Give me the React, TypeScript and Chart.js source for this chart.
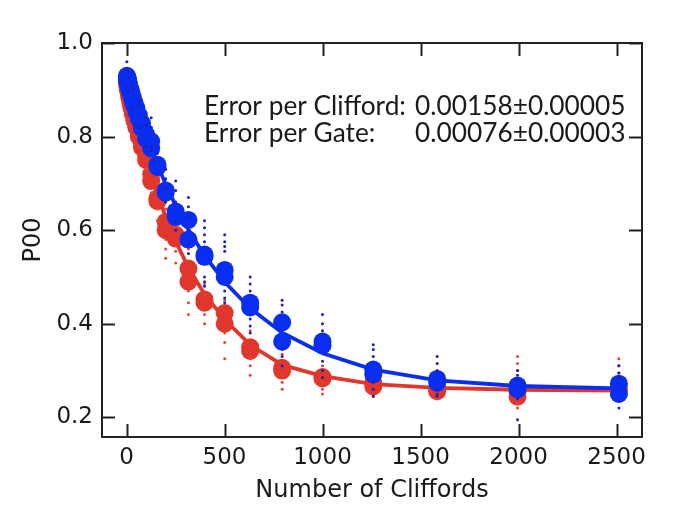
import React, { useEffect, useRef } from "react";
import { Chart, registerables } from "chart.js";

Chart.register(...registerables);

// Sequence lengths (number of Cliffords)
const lengths = [2, 4, 6, 8, 10, 13, 16, 20, 25, 32, 40, 50, 63, 79, 100, 126, 158, 200, 251, 316, 398, 501, 631, 794, 1000, 1259, 1585, 1995, 2512];

// Averaged P00 for two runs, blue series
const blueRunA = [0.930, 0.927, 0.923, 0.920, 0.916, 0.911, 0.906, 0.901, 0.894, 0.884, 0.873, 0.862, 0.846, 0.828, 0.805, 0.790, 0.740, 0.685, 0.640, 0.622, 0.548, 0.515, 0.445, 0.403, 0.362, 0.302, 0.282, 0.268, 0.272];
const blueRunB = [0.924, 0.920, 0.916, 0.912, 0.909, 0.904, 0.899, 0.893, 0.887, 0.877, 0.866, 0.853, 0.838, 0.818, 0.795, 0.775, 0.735, 0.680, 0.628, 0.580, 0.543, 0.500, 0.435, 0.362, 0.354, 0.292, 0.274, 0.260, 0.250];

// Averaged P00 for two runs, red series
const redRunA = [0.922, 0.917, 0.912, 0.907, 0.902, 0.896, 0.889, 0.880, 0.870, 0.857, 0.843, 0.828, 0.808, 0.787, 0.760, 0.720, 0.668, 0.618, 0.590, 0.518, 0.452, 0.423, 0.350, 0.306, 0.286, 0.273, 0.263, 0.256, 0.262];
const redRunB = [0.915, 0.910, 0.905, 0.900, 0.895, 0.888, 0.881, 0.872, 0.862, 0.849, 0.835, 0.820, 0.800, 0.777, 0.750, 0.705, 0.662, 0.600, 0.582, 0.490, 0.445, 0.400, 0.342, 0.300, 0.283, 0.266, 0.256, 0.244, 0.255];

// Individual random-sequence results (small dots)
const spreadLengths = [2, 10, 32, 63, 100, 126, 158, 200, 251, 316, 398, 501, 631, 794, 1000, 1259, 1585, 1995, 2512];
const blueSpread = [
  [0.96, 0.945, 0.905],
  [0.94, 0.925, 0.895],
  [0.91, 0.90, 0.86],
  [0.875, 0.865, 0.82],
  [0.84, 0.825, 0.78],
  [0.84, 0.82, 0.78, 0.77],
  [0.78, 0.765, 0.745, 0.72],
  [0.73, 0.71, 0.69, 0.66],
  [0.705, 0.685, 0.66, 0.62, 0.60],
  [0.67, 0.65, 0.63, 0.60, 0.57, 0.55],
  [0.62, 0.605, 0.59, 0.575, 0.50, 0.49, 0.48],
  [0.59, 0.575, 0.565, 0.555, 0.47, 0.455, 0.445],
  [0.50, 0.485, 0.47, 0.41, 0.395, 0.38],
  [0.45, 0.44, 0.425, 0.345, 0.33, 0.31],
  [0.42, 0.40, 0.385, 0.32, 0.30, 0.285],
  [0.355, 0.345, 0.33, 0.275, 0.26, 0.245],
  [0.33, 0.315, 0.30, 0.26, 0.25, 0.245],
  [0.30, 0.29, 0.28, 0.24, 0.195],
  [0.31, 0.295, 0.285, 0.235, 0.22],
];
const redSpread = [
  [0.94, 0.90],
  [0.92, 0.875],
  [0.88, 0.83],
  [0.83, 0.78],
  [0.79, 0.73],
  [0.74, 0.70, 0.68],
  [0.70, 0.645, 0.62],
  [0.645, 0.58, 0.56, 0.54],
  [0.61, 0.555, 0.53],
  [0.56, 0.47, 0.445, 0.42],
  [0.485, 0.46, 0.42, 0.40],
  [0.45, 0.38, 0.36, 0.325],
  [0.385, 0.33, 0.31, 0.29],
  [0.335, 0.29, 0.275, 0.26],
  [0.31, 0.275, 0.26, 0.25],
  [0.29, 0.26, 0.245],
  [0.28, 0.25, 0.24],
  [0.33, 0.315, 0.30, 0.23, 0.22],
  [0.325, 0.31, 0.295, 0.235],
];

// Fitted decay curves
const fitLengths = [0, 25, 50, 100, 158, 200, 251, 316, 398, 501, 631, 794, 1000, 1259, 1585, 1995, 2512];
const blueFit = [0.930, 0.894, 0.862, 0.802, 0.739, 0.698, 0.652, 0.601, 0.546, 0.489, 0.433, 0.381, 0.337, 0.302, 0.279, 0.267, 0.262];
const redFit = [0.928, 0.880, 0.836, 0.756, 0.677, 0.628, 0.576, 0.520, 0.463, 0.409, 0.355, 0.312, 0.288, 0.271, 0.263, 0.259, 0.257];

const xTicks = [0, 500, 1000, 1500, 2000, 2500];
const yTicks = [0.2, 0.4, 0.6, 0.8, 1.0];

const annotationLines = [
  ["Error per Clifford:", "0.00158\u00b10.00005"],
  ["Error per Gate:", "0.00076\u00b10.00003"],
];

const BLUE = "#0a2ef0";
const BLUE_SMALL = "#1c22b4";
const RED = "#e0362c";
const RED_SMALL = "#e0453a";
const AXIS = "#222222";
const TEXT = "#1a1a1a";

const pairs = (xs: number[], ys: number[]) => xs.map((x, i) => ({ x, y: ys[i] }));
const spread = (xs: number[], groups: number[][]) =>
  xs.flatMap((x, i) => groups[i].map((y) => ({ x, y })));

const framePlugin = {
  id: "frame",
  afterDraw(chart: any) {
    const { ctx, chartArea } = chart;
    const { left, right, top, bottom } = chartArea;
    const xs = chart.scales.x;
    const ys = chart.scales.y;
    const tl = 13;
    ctx.save();
    ctx.strokeStyle = AXIS;
    ctx.lineWidth = 2;
    ctx.strokeRect(left, top, right - left, bottom - top);
    ctx.beginPath();
    for (const v of xTicks) {
      const px = Math.round(xs.getPixelForValue(v)) + 0.5;
      ctx.moveTo(px, bottom);
      ctx.lineTo(px, bottom - tl);
      ctx.moveTo(px, top);
      ctx.lineTo(px, top + tl);
    }
    for (const v of yTicks) {
      const py = Math.round(ys.getPixelForValue(v)) + 0.5;
      ctx.moveTo(left, py);
      ctx.lineTo(left + tl, py);
      ctx.moveTo(right, py);
      ctx.lineTo(right - tl, py);
    }
    ctx.stroke();

    // annotation text
    ctx.fillStyle = TEXT;
    ctx.textBaseline = "alphabetic";
    ctx.textAlign = "left";
    let size = 20;
    ctx.font = `${size}px Lato`;
    const w = ctx.measureText(annotationLines[0][0]).width;
    size = (size * 202) / w;
    ctx.font = `${size}px Lato`;
    const labelX = left + (right - left) * 0.189;
    const valueX = left + (right - left) * 0.5796;
    const baseYs = [top + (bottom - top) * 0.182, top + (bottom - top) * 0.251];
    annotationLines.forEach(([label, value], i) => {
      ctx.fillText(label, labelX, baseYs[i]);
      ctx.fillText(value, valueX, baseYs[i]);
    });
    ctx.restore();
  },
};

export default function App() {
  const ref = useRef<HTMLCanvasElement>(null);
  useEffect(() => {
    if (!ref.current) return;
    const chart = new Chart(ref.current, {
      type: "scatter",
      data: {
        datasets: [
          { label: "blue small", data: spread(spreadLengths, blueSpread), pointRadius: 1.5, pointBackgroundColor: BLUE_SMALL, pointBorderWidth: 0, order: 0 } as any,
          { label: "blue fit", type: "line", data: pairs(fitLengths, blueFit), borderColor: BLUE, borderWidth: 3.8, pointRadius: 0, tension: 0, fill: false, order: 1 } as any,
          { label: "blue runs", data: [...pairs(lengths, blueRunA), ...pairs(lengths, blueRunB)], pointRadius: 9, pointBackgroundColor: BLUE, pointBorderWidth: 0, order: 2 } as any,
          { label: "red small", data: spread(spreadLengths, redSpread), pointRadius: 1.5, pointBackgroundColor: RED_SMALL, pointBorderWidth: 0, order: 3 } as any,
          { label: "red fit", type: "line", data: pairs(fitLengths, redFit), borderColor: RED, borderWidth: 3.8, pointRadius: 0, tension: 0, fill: false, order: 4 } as any,
          { label: "red runs", data: [...pairs(lengths, redRunA), ...pairs(lengths, redRunB)], pointRadius: 9, pointBackgroundColor: RED, pointBorderWidth: 0, order: 5 } as any,
        ],
      },
      options: {
        responsive: false,
        animation: false,
        layout: { padding: { left: 0, right: 38, top: 43, bottom: 0 } },
        plugins: { legend: { display: false }, tooltip: { enabled: false } },
        scales: {
          x: {
            type: "linear",
            position: "bottom",
            min: -125,
            max: 2630,
            afterFit: (s: any) => { s.height = 95; },
            afterBuildTicks: (s: any) => { s.ticks = xTicks.map((v) => ({ value: v })); },
            grid: { display: false, drawTicks: false },
            border: { display: false },
            ticks: { color: TEXT, font: { family: "DejaVu Sans", size: 23 }, padding: 7, maxRotation: 0, autoSkip: false, callback: (v: any) => String(v) },
            title: { display: true, text: "Number of Cliffords", color: TEXT, font: { family: "DejaVu Sans", size: 24 }, padding: { top: 0, bottom: 27 } },
          },
          y: {
            type: "linear",
            min: 0.158,
            max: 1.0,
            afterFit: (s: any) => { s.width = 102; },
            afterBuildTicks: (s: any) => { s.ticks = yTicks.map((v) => ({ value: v })); },
            grid: { display: false, drawTicks: false },
            border: { display: false },
            ticks: { color: TEXT, font: { family: "DejaVu Sans", size: 23 }, padding: 9, callback: (v: any) => Number(v).toFixed(1) },
            title: { display: true, text: "P00", color: TEXT, font: { family: "DejaVu Sans", size: 24 }, padding: { top: 19, bottom: 0 } },
          },
        },
      },
      plugins: [framePlugin],
    });
    return () => chart.destroy();
  }, []);
  return (
    <div style={{ position: "fixed", left: 0, top: 0, width: 680, height: 532, background: "#fff" }}>
      <canvas ref={ref} width={680} height={532} />
    </div>
  );
}
